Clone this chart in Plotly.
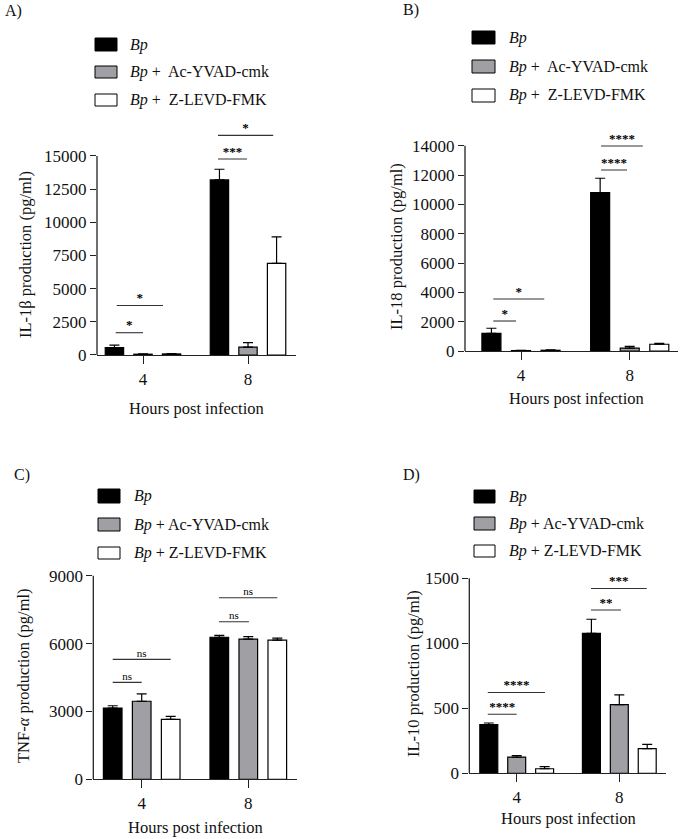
import plotly.graph_objects as go

W, H = 682, 839
FONT = "Liberation Serif"

# ---------------- data ----------------
hours = ["4", "8"]
series = ["Bp", "Bp + Ac-YVAD-cmk", "Bp + Z-LEVD-FMK"]
series_html_ab = ["<i>Bp</i>", "<i>Bp</i> +  Ac-YVAD-cmk", "<i>Bp</i> +  Z-LEVD-FMK"]
series_html_cd = ["<i>Bp</i>", "<i>Bp</i> + Ac-YVAD-cmk", "<i>Bp</i> + Z-LEVD-FMK"]

il1b_means = [[550, 13200], [60, 600], [80, 6900]]
il1b_errs = [[200, 800], [30, 330], [20, 2000]]

il18_means = [[1200, 10800], [30, 200], [50, 460]]
il18_errs = [[350, 980], [20, 110], [20, 60]]

tnf_means = [[3150, 6280], [3450, 6200], [2650, 6150]]
tnf_errs = [[100, 80], [330, 110], [130, 90]]

il10_means = [[375, 1077], [125, 528], [35, 190]]
il10_errs = [[12, 108], [12, 75], [17, 33]]

# significance: (group index, start offset, end offset, height, label)
sig_il1b = [(0, -0.26, 0.0, 1680, "*"), (0, -0.25, 0.19, 3737, "*"),
            (1, -0.286, -0.01, 14774, "***"), (1, -0.286, 0.24, 16555, "*")]
sig_il18 = [(0, -0.255, -0.046, 2045, "*"), (0, -0.255, 0.214, 3545, "*"),
            (1, -0.264, -0.025, 12340, "****"), (1, -0.264, 0.12, 13977, "****")]
sig_tnf = [(0, -0.272, 0.0, 4286, "ns"), (0, -0.272, 0.272, 5302, "ns"),
           (1, -0.275, 0.006, 6966, "ns"), (1, -0.275, 0.272, 8027, "ns")]
sig_il10 = [(0, -0.282, 0.0, 454, "****"), (0, -0.282, 0.276, 621, "****"),
            (1, -0.276, 0.016, 1256, "**"), (1, -0.276, 0.267, 1421, "***")]

colors = ["#000000", "#a0a0a4", "#ffffff"]

panels = [
    dict(letter="A)", means=il1b_means, errs=il1b_errs, sig=sig_il1b,
         ytitle="IL-1β production (pg/ml)", ticks=[0, 2500, 5000, 7500, 10000, 12500, 15000],
         xpx=(97, 296), xr=(-0.438, 1.457), ybot=355, ytop=156, R=18500,
         labels=series_html_ab,
         leg_x=(95, 117), leg_y=[(38, 51), (66, 78), (94, 106)], leg_tx=128,
         let_xy=(3, 11), yt_xy=(25, 255), xt_xy=(196, 408)),
    dict(letter="B)", means=il18_means, errs=il18_errs, sig=sig_il18,
         ytitle="IL-18 production (pg/ml)", ticks=[0, 2000, 4000, 6000, 8000, 10000, 12000, 14000],
         xpx=(465, 678), xr=(-0.515, 1.444), ybot=351, ytop=145.7, R=15500,
         labels=series_html_ab,
         leg_x=(472, 495), leg_y=[(31, 44), (60, 73), (89, 102)], leg_tx=507,
         let_xy=(401, 10), yt_xy=(396, 247), xt_xy=(576, 398)),
    dict(letter="C)", means=tnf_means, errs=tnf_errs, sig=sig_tnf,
         ytitle="TNF-<i>α</i> production (pg/ml)", ticks=[0, 3000, 6000, 9000],
         xpx=(93.3, 296.7), xr=(-0.454, 1.454), ybot=779.3, ytop=575.7, R=9300,
         labels=series_html_cd,
         leg_x=(98, 120), leg_y=[(489, 503), (518, 531), (547, 559)], leg_tx=132,
         let_xy=(12, 475), yt_xy=(23, 676), xt_xy=(195, 827)),
    dict(letter="D)", means=il10_means, errs=il10_errs, sig=sig_il10,
         ytitle="IL-10 production (pg/ml)", ticks=[0, 500, 1000, 1500],
         xpx=(469.3, 666), xr=(-0.462, 1.455), ybot=773.3, ytop=578.3, R=1650,
         labels=series_html_cd,
         leg_x=(474, 495), leg_y=[(490, 503), (517, 530), (545, 557)], leg_tx=507,
         let_xy=(401, 475), yt_xy=(413, 674), xt_xy=(568, 818)),
]

fig = go.Figure()
shapes = []
annotations = []
layout_axes = {}

def px2x(px):
    return px / W

def px2y(py):
    return 1 - py / H

for i, p in enumerate(panels):
    n = i + 1
    xa = "x" if n == 1 else f"x{n}"
    ya = "y" if n == 1 else f"y{n}"
    xkey = "xaxis" if n == 1 else f"xaxis{n}"
    ykey = "yaxis" if n == 1 else f"yaxis{n}"
    xpos = list(range(len(hours)))

    for s in range(3):
        fig.add_trace(go.Bar(
            x=xpos, y=p["means"][s], name=series[s], showlegend=False,
            xaxis=xa, yaxis=ya, offsetgroup=str(s),
            marker=dict(color=colors[s], line=dict(color="#000000", width=1.2)),
            error_y=dict(type="data", array=p["errs"][s], arrayminus=[0] * len(hours),
                         symmetric=False, color="#000000", thickness=1.2, width=5),
        ))

    # significance lines & labels
    lx, ly, tx, ty, tt = [], [], [], [], []
    for g, a, b, h, lab in p["sig"]:
        lx += [g + a, g + b, None]
        ly += [h, h, None]
        tx.append(g + (a + b) / 2)
        ty.append(h)
        tt.append(lab)
    fig.add_trace(go.Scatter(x=lx, y=ly, mode="lines", xaxis=xa, yaxis=ya,
                             line=dict(color="#333333", width=1.1), showlegend=False,
                             hoverinfo="skip", cliponaxis=False))
    is_ns = tt[0] == "ns"
    fig.add_trace(go.Scatter(
        x=tx, y=ty, text=[t if is_ns else f"<b>{t}</b>" for t in tt], mode="text",
        textposition="top center", xaxis=xa, yaxis=ya, showlegend=False,
        hoverinfo="skip", cliponaxis=False,
        textfont=dict(family=FONT, size=11 if is_ns else 13, color="#000000")))

    # axes
    ybot, ytop, R, amax = p["ybot"], p["ytop"], p["R"], p["ticks"][-1]
    top_px = ybot - (ybot - ytop) * R / amax
    layout_axes[xkey] = dict(
        domain=[px2x(p["xpx"][0]), px2x(p["xpx"][1])], range=list(p["xr"]),
        anchor=ya, showline=True, linecolor="#222222", linewidth=1.3,
        tickmode="array", tickvals=xpos, ticktext=hours, ticks="outside",
        ticklen=8, tickwidth=1.3, tickcolor="#222222", showgrid=False, zeroline=False,
        automargin=False,
        tickfont=dict(family=FONT, size=17, color="#111111"), fixedrange=True)
    layout_axes[ykey] = dict(
        domain=[px2y(ybot), px2y(top_px)], range=[0, R], anchor=xa,
        showline=False, tickmode="array", tickvals=p["ticks"],
        ticktext=[str(t) for t in p["ticks"]], ticks="outside", ticklen=6,
        tickwidth=1.3, tickcolor="#222222", showgrid=False, zeroline=False,
        automargin=False,
        tickfont=dict(family=FONT, size=17, color="#111111"), fixedrange=True)
    shapes.append(dict(type="line", xref=f"{xa} domain", yref=ya, x0=0, x1=0,
                       y0=0, y1=amax, line=dict(color="#222222", width=1.3)))

    for s in range(3):
        y0, y1 = p["leg_y"][s]
        shapes.append(dict(type="rect", xref="paper", yref="paper",
                           x0=px2x(p["leg_x"][0]), x1=px2x(p["leg_x"][1]),
                           y0=px2y(y1), y1=px2y(y0), fillcolor=colors[s],
                           line=dict(color="#000000", width=1)))
        annotations.append(dict(text=p["labels"][s], xref="paper", yref="paper",
                                x=px2x(p["leg_tx"]), y=px2y((y0 + y1) / 2),
                                xanchor="left", yanchor="middle", showarrow=False,
                                font=dict(family=FONT, size=16, color="#111111")))
    annotations.append(dict(text=p["letter"], xref="paper", yref="paper",
                            x=px2x(p["let_xy"][0]), y=px2y(p["let_xy"][1]),
                            xanchor="left", yanchor="middle", showarrow=False,
                            font=dict(family=FONT, size=16, color="#111111")))
    annotations.append(dict(text=p["ytitle"], xref="paper", yref="paper",
                            x=px2x(p["yt_xy"][0]), y=px2y(p["yt_xy"][1]),
                            xanchor="center", yanchor="middle", textangle=-90,
                            showarrow=False,
                            font=dict(family=FONT, size=16.5, color="#111111")))
    annotations.append(dict(text="Hours post infection", xref="paper", yref="paper",
                            x=px2x(p["xt_xy"][0]), y=px2y(p["xt_xy"][1]),
                            xanchor="center", yanchor="middle", showarrow=False,
                            font=dict(family=FONT, size=16.5, color="#111111")))

fig.update_layout(
    width=W, height=H, margin=dict(l=0, r=0, t=0, b=0, autoexpand=False),
    paper_bgcolor="white", plot_bgcolor="white",
    barmode="group", bargap=0.184, bargroupgap=0.357,
    showlegend=False, shapes=shapes, annotations=annotations,
    font=dict(family=FONT, color="#111111"),
    **layout_axes,
)

fig.write_html("out.html")
